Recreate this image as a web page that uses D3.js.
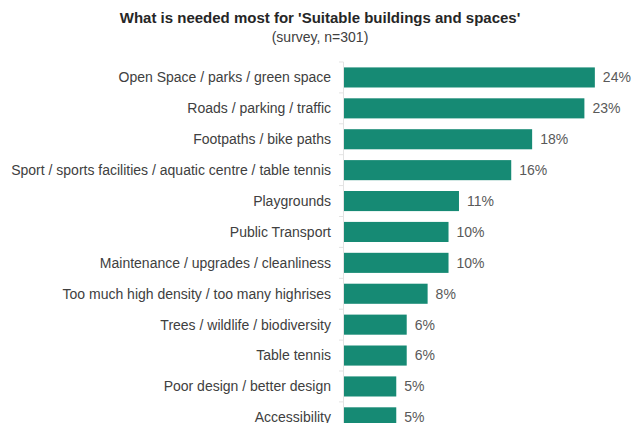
<!DOCTYPE html>
<html>
<head>
<meta charset="utf-8">
<script src="https://cdn.jsdelivr.net/npm/d3@7"></script>
<style>
  html, body { margin: 0; padding: 0; background: #fff; }
  svg { display: block; font-family: "Liberation Sans", Arial, sans-serif; }
</style>
</head>
<body>
<svg id="chart" width="632" height="423"></svg>
<script>
// Survey responses: share of respondents naming each need (%)
const categories = [
  "Open Space / parks / green space",
  "Roads / parking / traffic",
  "Footpaths / bike paths",
  "Sport / sports facilities / aquatic centre / table tennis",
  "Playgrounds",
  "Public Transport",
  "Maintenance / upgrades / cleanliness",
  "Too much high density / too many highrises",
  "Trees / wildlife / biodiversity",
  "Table tennis",
  "Poor design / better design",
  "Accessibility"
];
const values = [24, 23, 18, 16, 11, 10, 10, 8, 6, 6, 5, 5];
const title = "What is needed most for 'Suitable buildings and spaces'";
const subtitle = "(survey, n=301)";

const data = categories.map((c, i) => ({ category: c, value: values[i] }));

const svg = d3.select("#chart");

const axisX = 344;
const x = d3.scaleLinear().domain([0, 25]).range([axisX, axisX + 261.3]);
const y = d3.scaleBand()
  .domain(categories)
  .range([62, 62 + categories.length * 30.9])
  .paddingInner(0.35)
  .paddingOuter(0.175);

// Titles
svg.append("text")
  .attr("x", 320).attr("y", 23)
  .attr("text-anchor", "middle")
  .attr("font-size", 15).attr("font-weight", "bold")
  .attr("fill", "#262626")
  .text(title);
svg.append("text")
  .attr("x", 320).attr("y", 42)
  .attr("text-anchor", "middle")
  .attr("font-size", 14)
  .attr("fill", "#404040")
  .text(subtitle);

// Category axis: faint line with ticks between categories
const boundaries = d3.range(categories.length + 1).map(i => y.range()[0] + i * y.step());
svg.append("line")
  .attr("x1", axisX - 0.5).attr("x2", axisX - 0.5)
  .attr("y1", boundaries[0]).attr("y2", boundaries[boundaries.length - 1])
  .attr("stroke", "#e3e3e3").attr("stroke-width", 1);
svg.selectAll("line.tick")
  .data(boundaries)
  .join("line")
  .attr("class", "tick")
  .attr("x1", axisX - 5).attr("x2", axisX - 0.5)
  .attr("y1", d => d).attr("y2", d => d)
  .attr("stroke", "#e3e3e3").attr("stroke-width", 1);

// Bars
svg.selectAll("rect.bar")
  .data(data)
  .join("rect")
  .attr("class", "bar")
  .attr("x", x(0))
  .attr("y", d => y(d.category))
  .attr("width", d => x(d.value) - x(0))
  .attr("height", y.bandwidth())
  .attr("fill", "#168a74");

// Category labels
svg.selectAll("text.cat")
  .data(data)
  .join("text")
  .attr("class", "cat")
  .attr("x", axisX - 13)
  .attr("y", d => y(d.category) + y.bandwidth() / 2)
  .attr("dy", "0.35em")
  .attr("text-anchor", "end")
  .attr("font-size", 14)
  .attr("fill", "#404040")
  .text(d => d.category);

// Value labels
svg.selectAll("text.val")
  .data(data)
  .join("text")
  .attr("class", "val")
  .attr("x", d => x(d.value) + 8)
  .attr("y", d => y(d.category) + y.bandwidth() / 2)
  .attr("dy", "0.35em")
  .attr("font-size", 14)
  .attr("fill", "#595959")
  .text(d => d.value + "%");
</script>
</body>
</html>
